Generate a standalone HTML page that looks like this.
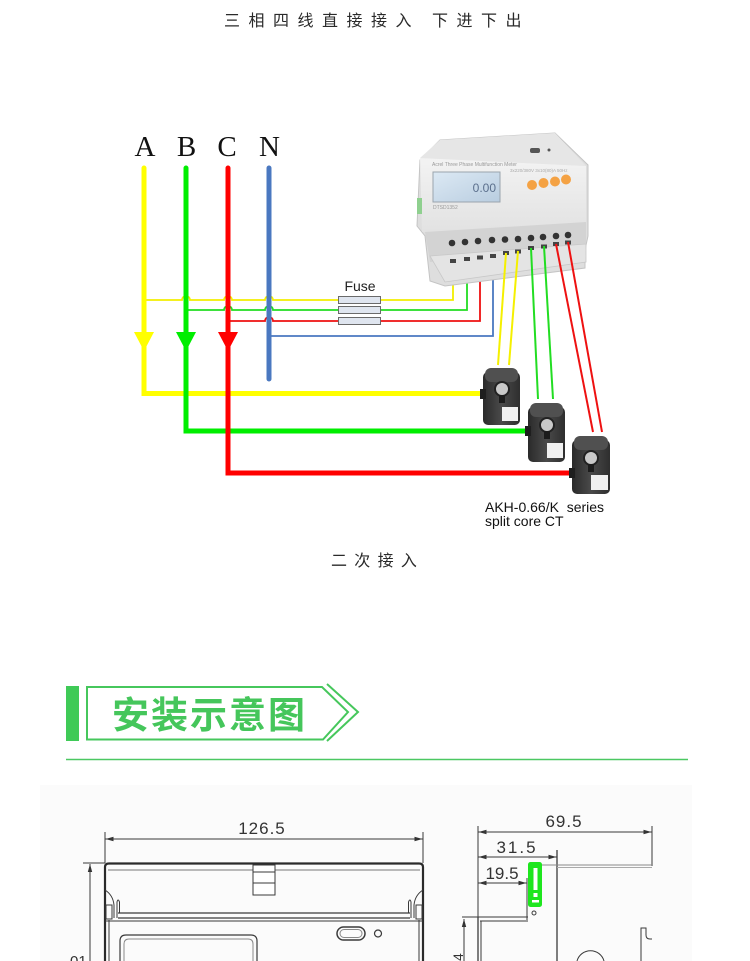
<!DOCTYPE html>
<html>
<head>
<meta charset="utf-8">
<style>
html,body{margin:0;padding:0;background:#fff;}
svg{display:block;}
.cjk{font-family:"Liberation Sans","Noto Sans CJK SC",sans-serif;}
.dim{font-family:"Liberation Sans",sans-serif;font-size:17px;fill:#333;}
</style>
</head>
<body>
<svg width="750" height="961" viewBox="0 0 750 961" xmlns="http://www.w3.org/2000/svg">
<rect x="0" y="0" width="750" height="961" fill="#fff"/>

<!-- Title -->
<text class="cjk" font-size="16" fill="#2a2a2a" y="26" x="224 248.5 273 297.5 322 346.5 371 395.5 432 456.5 481 505.5">三相四线直接接入下进下出</text>

<!-- Phase labels -->
<g font-family="Liberation Serif, serif" font-size="29" fill="#111" text-anchor="middle">
<text x="145" y="156">A</text>
<text x="186.5" y="156">B</text>
<text x="227" y="156">C</text>
<text x="269.5" y="156">N</text>
</g>

<!-- Thin branch lines with jumps -->
<g fill="none" stroke-width="1.8">
<path d="M144,300 H182 a4,4 0 0 1 8,0 H224 a4,4 0 0 1 8,0 H265 a4,4 0 0 1 8,0 H453 V262" stroke="#f2ee00"/>
<path d="M186,310 H224 a4,4 0 0 1 8,0 H265 a4,4 0 0 1 8,0 H467 V260" stroke="#22dd22"/>
<path d="M228,321 H265 a4,4 0 0 1 8,0 H480 V258" stroke="#ee1111"/>
<path d="M269,336 H493 V257" stroke="#4a78c0"/>
</g>

<!-- Fuses -->
<g fill="#dfe5ef" stroke="#6a6a6a" stroke-width="1">
<rect x="338.5" y="296.5" width="42" height="7"/>
<rect x="338.5" y="306.5" width="42" height="7"/>
<rect x="338.5" y="317.5" width="42" height="7"/>
</g>
<text x="360" y="291" font-family="Liberation Sans, sans-serif" font-size="14" fill="#222" text-anchor="middle">Fuse</text>

<!-- Thick phase lines -->
<g fill="none" stroke-width="5" stroke-linecap="round" stroke-linejoin="miter">
<path d="M144,168 V393.5 H484" stroke="#ffff00"/>
<path d="M186,168 V431 H528" stroke="#00ee00"/>
<path d="M228,168 V473 H572" stroke="#ff0000"/>
<path d="M269,168 V379" stroke="#4a78c0"/>
</g>
<!-- Arrowheads -->
<polygon points="134,332 154,332 144,351" fill="#ffff00"/>
<polygon points="176,332 196,332 186,351" fill="#00ee00"/>
<polygon points="218,332 238,332 228,351" fill="#ff0000"/>

<!-- Meter -->
<defs>
<linearGradient id="lcd" x1="0" y1="0" x2="1" y2="1">
<stop offset="0" stop-color="#dce9f4"/><stop offset="1" stop-color="#b9cde0"/>
</linearGradient>
<linearGradient id="face" x1="0" y1="0" x2="0" y2="1">
<stop offset="0" stop-color="#f3f3f3"/><stop offset="1" stop-color="#e2e2e2"/>
</linearGradient>
<linearGradient id="ct" x1="0" y1="0" x2="1" y2="0">
<stop offset="0" stop-color="#2a2a2a"/><stop offset="0.5" stop-color="#4a4a4a"/><stop offset="1" stop-color="#2e2e2e"/>
</linearGradient>
</defs>
<g>
<polygon points="420,160 440,140 555,133 588,165 588,236 585,250 585,268 445,286 430,281 425,236 417,226" fill="#dedede" stroke="#c4c4c4" stroke-width="1"/>
<polygon points="440,140 555,133 586,166 420,158" fill="#e6e6e6"/>
<polygon points="420,158 586,166 586,228 422,232" fill="url(#face)"/>
<rect x="417" y="198" width="5" height="16" fill="#8fd08f"/>
<rect x="433" y="172" width="67" height="30" fill="url(#lcd)" stroke="#9aa4ad" stroke-width="1"/>
<text x="496" y="192" font-family="Liberation Sans, sans-serif" font-size="12" fill="#5b6f8c" text-anchor="end">0.00</text>
<text x="432" y="166" font-family="Liberation Sans, sans-serif" font-size="5" fill="#999">Acrel   Three Phase Multifunction Meter</text>
<text x="433" y="209" font-family="Liberation Sans, sans-serif" font-size="5" fill="#999">DTSD1352</text>
<text x="510" y="172" font-family="Liberation Sans, sans-serif" font-size="4.5" fill="#aaa">3x220/380V 3x10(80)A 50Hz</text>
<rect x="530" y="148" width="10" height="5" rx="2" fill="#555"/>
<circle cx="549" cy="150" r="1.5" fill="#555"/>
<circle cx="532" cy="185" r="5" fill="#f4a244"/>
<circle cx="543.5" cy="183" r="5" fill="#f4a244"/>
<circle cx="555" cy="181.5" r="5" fill="#f4a244"/>
<circle cx="566" cy="179.5" r="5" fill="#f4a244"/>
<polygon points="425,232 586,222 586,247 430,262" fill="#d3d3d3"/>
<g fill="#333">
<circle cx="452" cy="243" r="3.3"/><circle cx="465" cy="242" r="3.3"/><circle cx="478" cy="241" r="3.3"/>
<circle cx="492" cy="240" r="3.3"/><circle cx="505" cy="239.5" r="3.3"/><circle cx="518" cy="239" r="3.3"/>
<circle cx="531" cy="238" r="3.3"/><circle cx="543" cy="237" r="3.3"/><circle cx="556" cy="236" r="3.3"/>
<circle cx="568" cy="235" r="3.3"/>
</g>
<polygon points="430,256 586,244 586,262 445,282" fill="#e4e4e4" stroke="#c8c8c8" stroke-width="0.8"/>
<g fill="#444">
<rect x="450" y="259" width="6" height="4"/><rect x="464" y="257" width="6" height="4"/>
<rect x="477" y="255.5" width="6" height="4"/><rect x="490" y="254" width="6" height="4"/>
<rect x="503" y="251" width="6" height="4"/><rect x="515" y="249.5" width="6" height="4"/>
<rect x="528" y="246" width="6" height="4"/><rect x="541" y="244.5" width="6" height="4"/>
<rect x="553" y="242" width="6" height="4"/><rect x="565" y="240.5" width="6" height="4"/>
</g>
</g>

<!-- Wires to CTs -->
<g stroke-width="2" fill="none">
<line x1="506" y1="253" x2="498" y2="365" stroke="#f5f000"/>
<line x1="518" y1="251" x2="509" y2="365" stroke="#f5f000"/>
<line x1="531" y1="248" x2="538" y2="399" stroke="#22dd22"/>
<line x1="544" y1="246" x2="553" y2="399" stroke="#22dd22"/>
<line x1="556" y1="244" x2="593" y2="432" stroke="#ee1111"/>
<line x1="568" y1="242" x2="602" y2="432" stroke="#ee1111"/>
</g>

<!-- CTs -->
<g>
<rect x="483" y="372" width="37" height="53" rx="5" fill="url(#ct)"/>
<rect x="485" y="368" width="33" height="14" rx="6" fill="#505050"/>
<circle cx="502" cy="389" r="7" fill="#c9c9c9" stroke="#222" stroke-width="2"/>
<rect x="499" y="395" width="6" height="8" fill="#1c1c1c"/>
<rect x="502" y="407" width="16" height="14" fill="#f0f0f0"/>
<rect x="480" y="389" width="6" height="10" fill="#1e1e1e"/>

<rect x="528" y="407" width="37" height="55" rx="5" fill="url(#ct)"/>
<rect x="530" y="403" width="33" height="14" rx="6" fill="#505050"/>
<circle cx="547" cy="425" r="7" fill="#c9c9c9" stroke="#222" stroke-width="2"/>
<rect x="544" y="431" width="6" height="8" fill="#1c1c1c"/>
<rect x="547" y="443" width="16" height="15" fill="#f0f0f0"/>
<rect x="525" y="426" width="6" height="10" fill="#1e1e1e"/>

<rect x="572" y="440" width="38" height="54" rx="5" fill="url(#ct)"/>
<rect x="574" y="436" width="34" height="14" rx="6" fill="#505050"/>
<circle cx="591" cy="458" r="7" fill="#c9c9c9" stroke="#222" stroke-width="2"/>
<rect x="588" y="464" width="6" height="8" fill="#1c1c1c"/>
<rect x="591" y="475" width="17" height="15" fill="#f0f0f0"/>
<rect x="569" y="468" width="6" height="10" fill="#1e1e1e"/>
</g>

<g font-family="Liberation Sans, sans-serif" font-size="14" fill="#111">
<text x="485" y="512" xml:space="preserve">AKH-0.66/K  series</text>
<text x="485" y="526">split core CT</text>
</g>

<text class="cjk" font-size="16" fill="#2a2a2a" y="566" x="331 354.3 377.6 400.9">二次接入</text>

<!-- Section header -->
<rect x="66" y="686" width="13" height="55" fill="#3fca57"/>
<path d="M87,687 H322 L348,712 L323,739.5 H87 Z" fill="none" stroke="#46c75c" stroke-width="2"/>
<path d="M327,684 L358,712 L327,741" fill="none" stroke="#46c75c" stroke-width="2"/>
<text class="cjk" font-size="37" font-weight="bold" fill="#45c65b" y="728" x="112 151 190 229 268">安装示意图</text>
<line x1="66" y1="759.5" x2="688" y2="759.5" stroke="#4cc862" stroke-width="1.6"/>

<!-- Dimension drawing background -->
<rect x="40" y="785" width="652" height="176" fill="#fbfbfb"/>

<defs>
<marker id="ar" markerWidth="8" markerHeight="6" refX="8" refY="3" orient="auto" markerUnits="userSpaceOnUse">
<path d="M0,0.8 L8,3 L0,5.2 Z" fill="#333"/>
</marker>
</defs>

<!-- Front view -->
<g stroke="#3a3a3a" fill="none" stroke-width="1">
<line x1="105" y1="832" x2="105" y2="863"/>
<line x1="423" y1="832" x2="423" y2="863"/>
<line x1="110" y1="839" x2="105.5" y2="839" marker-end="url(#ar)"/>
<line x1="110" y1="839" x2="418" y2="839"/>
<line x1="418" y1="839" x2="422.5" y2="839" marker-end="url(#ar)"/>
<path d="M105,961 V867 Q105,863.5 109,863.5 H419 Q423,863.5 423,867 V961" stroke-width="2.2" stroke="#2a2a2a"/>
<line x1="108" y1="870" x2="420" y2="870" stroke="#777"/>
<line x1="109" y1="920" x2="109" y2="961"/>
<line x1="419" y1="920" x2="419" y2="961"/>
<line x1="118" y1="913" x2="410" y2="913" stroke-width="1.3"/>
<line x1="118" y1="918" x2="410" y2="918" stroke-width="1.3"/>
<line x1="105" y1="921" x2="423" y2="921"/>
<rect x="253" y="865" width="22" height="30" fill="#fff"/>
<line x1="253" y1="872" x2="275" y2="872"/>
<line x1="253" y1="883" x2="275" y2="883"/>
<path d="M105,890 Q113,895 114,905 V918"/>
<rect x="106" y="905" width="6" height="14"/>
<path d="M117,918 V902 Q118,898 119.5,902 V913"/>
<path d="M423,890 Q415,895 414,905 V918"/>
<rect x="416" y="905" width="6" height="14"/>
<path d="M411,918 V902 Q410,898 408.5,902 V913"/>
<path d="M120,961 V941 Q120,935 126,935 H251 Q257,935 257,941 V961" stroke-width="1.2"/>
<path d="M124,961 V944 Q124,939 129,939 H248 Q253,939 253,944 V961" stroke="#888"/>
<rect x="337" y="927" width="28" height="13" rx="6.5" stroke-width="1.5"/>
<rect x="340" y="929.5" width="22" height="8" rx="4" stroke="#888"/>
<circle cx="378" cy="933.5" r="3.5" stroke-width="1.2"/>
<line x1="83" y1="863" x2="105" y2="863"/>
<line x1="90" y1="961" x2="90" y2="870"/>
<line x1="90" y1="871" x2="90" y2="864" marker-end="url(#ar)"/>
</g>
<text class="dim" x="262" y="834" text-anchor="middle" letter-spacing="1">126.5</text>
<text x="70" y="966" font-family="Liberation Sans, sans-serif" font-size="15" fill="#333">01</text>

<!-- Side view -->
<g stroke="#3a3a3a" fill="none" stroke-width="1">
<line x1="478" y1="826" x2="478" y2="918"/>
<line x1="652" y1="826" x2="652" y2="866"/>
<line x1="483" y1="832" x2="478.5" y2="832" marker-end="url(#ar)"/>
<line x1="483" y1="832" x2="647" y2="832"/>
<line x1="647" y1="832" x2="651.5" y2="832" marker-end="url(#ar)"/>
<line x1="557" y1="850" x2="557" y2="961" stroke-width="1.3"/>
<line x1="483" y1="857" x2="478.5" y2="857" marker-end="url(#ar)"/>
<line x1="483" y1="857" x2="552" y2="857"/>
<line x1="552" y1="857" x2="556.5" y2="857" marker-end="url(#ar)"/>
<line x1="483" y1="883" x2="478.5" y2="883" marker-end="url(#ar)"/>
<line x1="483" y1="883" x2="522" y2="883"/>
<line x1="522" y1="883" x2="526.5" y2="883" marker-end="url(#ar)"/>
<line x1="527" y1="878" x2="527" y2="920"/>
<line x1="541" y1="865" x2="652" y2="865" stroke="#888"/>
<line x1="557" y1="867.5" x2="652" y2="867.5" stroke="#aaa"/>
<line x1="462" y1="917" x2="528" y2="917"/>
<line x1="480" y1="921" x2="528" y2="921"/>
<line x1="478" y1="917" x2="478" y2="961" stroke-width="1.3"/>
<line x1="481" y1="921" x2="481" y2="961"/>
<line x1="464" y1="961" x2="464" y2="925"/>
<line x1="464" y1="926" x2="464" y2="919" marker-end="url(#ar)"/>
<circle cx="534" cy="913" r="2"/>
<path d="M641,961 V928 H646 V935 Q646,939 650,939 H652"/>
<path d="M577,961 A14,14 0 0 1 604,961"/>
</g>
<rect x="528" y="862" width="14" height="45" rx="2.5" fill="#1ee61e"/>
<rect x="533.5" y="868" width="4" height="22" fill="#fff"/>
<rect x="533.5" y="893" width="4" height="4" fill="#fff"/>
<rect x="532" y="900" width="7" height="2.5" fill="#fff"/>
<text class="dim" x="564" y="827" text-anchor="middle" letter-spacing="1">69.5</text>
<text class="dim" x="517" y="853" text-anchor="middle" letter-spacing="2">31.5</text>
<text class="dim" x="502" y="879" text-anchor="middle">19.5</text>
<text x="446" y="966" font-family="Liberation Sans, sans-serif" font-size="14" fill="#333" transform="rotate(-90 452 955)">4</text>
</svg>
</body>
</html>
